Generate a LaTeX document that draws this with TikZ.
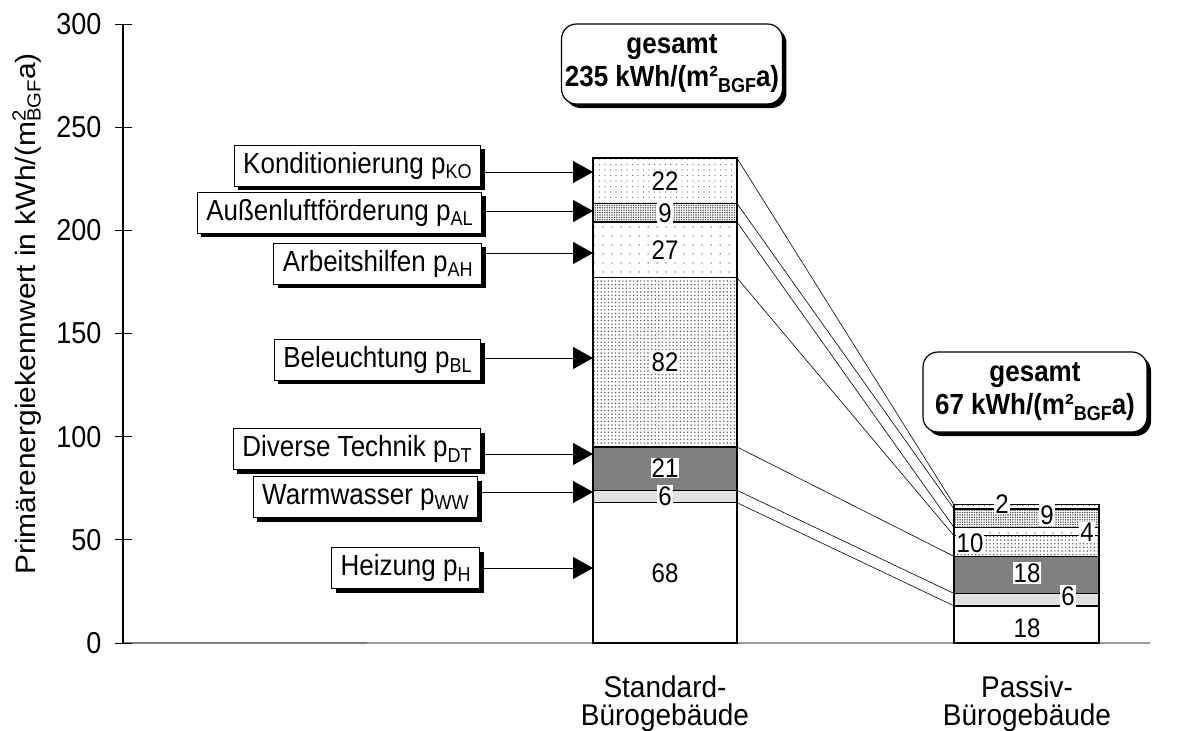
\documentclass[tikz,border=0pt]{standalone}
\usepackage{fontspec}
\setmainfont{Liberation Sans}
\usetikzlibrary{arrows.meta,patterns.meta,shadows,calc}

% subscript / superscript helpers for the unit labels
\newcommand{\lowsub}[1]{\raisebox{-5pt}{\fontsize{18}{18}\selectfont #1}}
\newcommand{\unitsupsub}[2]{\rlap{\raisebox{10pt}{\fontsize{19}{19}\selectfont #1}}\raisebox{-5pt}{\fontsize{19}{19}\selectfont #2}}
% slightly tall lettering
\newcommand{\tall}[1]{\scalebox{1}[1.12]{#1}}

\begin{document}
\begin{tikzpicture}[x=1pt,y=-1pt]
\useasboundingbox (0,0) rectangle (1200,731);
\def\ys{2.0633}   % pixels per kWh/(m2 a)
\def\yb{643}      % baseline

\tikzset{
  seg/.style={draw=black, line width=1.3pt},
  fH/.style={seg, fill=white},
  fWW/.style={seg, fill=black!12},
  fDT/.style={seg, fill=black!50},
  fBL/.style={seg, preaction={fill=white}, pattern={Dots[distance=3.6pt,radius=0.8pt]}, pattern color=black!65},
  fAH/.style={seg, preaction={fill=white}, pattern={Dots[distance=9pt,radius=0.75pt]}, pattern color=black!60},
  fAL/.style={seg, preaction={fill=white}, pattern={Dots[distance=2.4pt,radius=0.8pt]}, pattern color=black!70},
  fKO/.style={seg, preaction={fill=white}, pattern={Dots[distance=5.5pt,radius=0.7pt]}, pattern color=black!60},
  val/.style={fill=white, inner sep=1pt, font=\fontsize{24}{24}\selectfont},
  labbox/.style={draw, line width=0.8pt, fill=white, anchor=east, minimum height=41pt,
    inner xsep=9pt, font=\fontsize{26}{28}\selectfont,
    drop shadow={shadow xshift=4pt, shadow yshift=-4pt, fill=black, opacity=1}},
  totbox/.style={draw, line width=1.2pt, fill=white, rounded corners=15pt, align=center,
    minimum height=80pt, font=\fontsize{26}{33}\selectfont\bfseries,
    drop shadow={shadow xshift=4pt, shadow yshift=-4pt, fill=black, opacity=1}},
  pointer/.style={line width=0.8pt, -{Triangle[length=20pt,width=22pt]}},
  link/.style={line width=0.6pt},
  ticklab/.style={anchor=east, font=\fontsize{27}{27}\selectfont},
  catlab/.style={anchor=base, inner sep=0pt, font=\fontsize{28}{28}\selectfont},
}

% ---------- axes ----------
\draw[black!50, line width=1.6pt] (123,\yb) -- (367,\yb);
\draw[black!40, line width=1.2pt] (367,\yb) -- (1150,\yb);
\draw[line width=1.2pt] (123,24) -- (123,\yb);
\foreach \v in {0,50,...,300}{
  \draw[line width=1pt] (115,{\yb-\ys*\v}) -- (132,{\yb-\ys*\v});
  \node[ticklab] (tick\v) at (105,{\yb-\ys*\v}) {\tall{\v}};
}
\node[rotate=90, font=\fontsize{28}{28}\selectfont] (ylabel) at (27,314)
  {\scalebox{1.07}[1]{Primärenergiekennwert in kWh/(m\unitsupsub{2}{BGF}a)}};

% ---------- standard office building ----------
\def\xa{593}\def\xb{737}
\draw[fH]  (\xa,{\yb})        rectangle (\xb,{\yb-\ys*68});
\draw[fWW] (\xa,{\yb-\ys*68}) rectangle (\xb,{\yb-\ys*74});
\draw[fDT] (\xa,{\yb-\ys*74}) rectangle (\xb,{\yb-\ys*95});
\draw[fBL] (\xa,{\yb-\ys*95}) rectangle (\xb,{\yb-\ys*177});
\draw[fAH] (\xa,{\yb-\ys*177}) rectangle (\xb,{\yb-\ys*204});
\draw[fAL] (\xa,{\yb-\ys*204}) rectangle (\xb,{\yb-\ys*213});
\draw[fKO] (\xa,{\yb-\ys*213}) rectangle (\xb,{\yb-\ys*235});
\draw[line width=2pt] (\xa,\yb) -- (\xb,\yb);

\node[val] (sv1) at (665,573) {\tall{68}};
\node[val] (sv2) at (665,496) {\tall{6}};
\node[val] (sv3) at (665,468) {\tall{21}};
\node[val] (sv4) at (665,362) {\tall{82}};
\node[val] (sv5) at (665,250) {\tall{27}};
\node[val] (sv6) at (665,213) {\tall{9}};
\node[val] (sv7) at (665,181) {\tall{22}};

% ---------- passive office building ----------
\def\xc{954}\def\xd{1099}
\draw[fH]  (\xc,{\yb})        rectangle (\xd,{\yb-\ys*18});
\draw[fWW] (\xc,{\yb-\ys*18}) rectangle (\xd,{\yb-\ys*24});
\draw[fDT] (\xc,{\yb-\ys*24}) rectangle (\xd,{\yb-\ys*42});
\draw[fBL] (\xc,{\yb-\ys*42}) rectangle (\xd,{\yb-\ys*52});
\draw[fAH] (\xc,{\yb-\ys*52}) rectangle (\xd,{\yb-\ys*56});
\draw[fAL] (\xc,{\yb-\ys*56}) rectangle (\xd,{\yb-\ys*65});
\draw[fKO] (\xc,{\yb-\ys*65}) rectangle (\xd,{\yb-\ys*67});
\draw[line width=2pt] (\xc,\yb) -- (\xd,\yb);

\node[val] (pv1) at (1027,628) {\tall{18}};
\node[val] (pv2) at (1068,596) {\tall{6}};
\node[val] (pv3) at (1027,573) {\tall{18}};
\node[val] (pv4) at (970,543) {\tall{10}};
\node[val] (pv5) at (1087,532) {\tall{4}};
\node[val] (pv6) at (1047,515) {\tall{9}};
\node[val] (pv7) at (1002,504) {\tall{2}};

% ---------- links between the two bars ----------
\foreach \n/\s/\p in {1/68/18, 2/74/24, 3/95/42, 4/177/52, 5/204/56, 6/213/65, 7/235/67}{
  \coordinate (s\n) at (\xb,{\yb-\ys*\s});
  \coordinate (p\n) at (\xc,{\yb-\ys*\p});
  \draw[link] (s\n) -- (p\n);
}

% ---------- category labels ----------
\node[catlab] (catstdA) at (665,697) {\scalebox{1}[1.07]{Standard-}};
\node[catlab] (catstdB) at (665,725) {\scalebox{1}[1.07]{Bürogebäude}};
\node[catlab] (catpasA) at (1027,697) {\scalebox{1}[1.07]{Passiv-}};
\node[catlab] (catpasB) at (1027,725) {\scalebox{1}[1.07]{Bürogebäude}};

% ---------- totals ----------
\node[totbox, minimum width=214pt] (tot1) at (672,64) {\tall{gesamt}\\\tall{235 kWh/(m²\lowsub{BGF}a)}};
\node[totbox, minimum width=224pt] (tot2) at (1035,392) {\tall{gesamt}\\\tall{67 kWh/(m²\lowsub{BGF}a)}};

% ---------- legend boxes with pointers ----------
\node[labbox] (lKO) at (481,165.5) {\tall{Konditionierung p\lowsub{KO}}};
\node[labbox] (lAL) at (482,212.5) {\tall{Außenluftförderung p\lowsub{AL}}};
\node[labbox] (lAH) at (482,263.5) {\tall{Arbeitshilfen p\lowsub{AH}}};
\node[labbox] (lBL) at (481,359.5) {\tall{Beleuchtung p\lowsub{BL}}};
\node[labbox] (lDT) at (481,449) {\tall{Diverse Technik p\lowsub{DT}}};
\node[labbox] (lWW) at (478,497) {\tall{Warmwasser p\lowsub{WW}}};
\node[labbox] (lH)  at (480,568) {\tall{Heizung p\lowsub{H}}};

\coordinate (tKO) at (\xa,172);
\coordinate (tAL) at (\xa,211);
\coordinate (tAH) at (\xa,253);
\coordinate (tBL) at (\xa,358);
\coordinate (tDT) at (\xa,454);
\coordinate (tWW) at (\xa,492);
\coordinate (tH)  at (\xa,568);
\foreach \k in {KO,AL,AH,BL,DT,WW,H}{
  \draw[pointer] ([xshift=4pt]l\k.east |- t\k) -- (t\k);
}
\end{tikzpicture}
\end{document}
